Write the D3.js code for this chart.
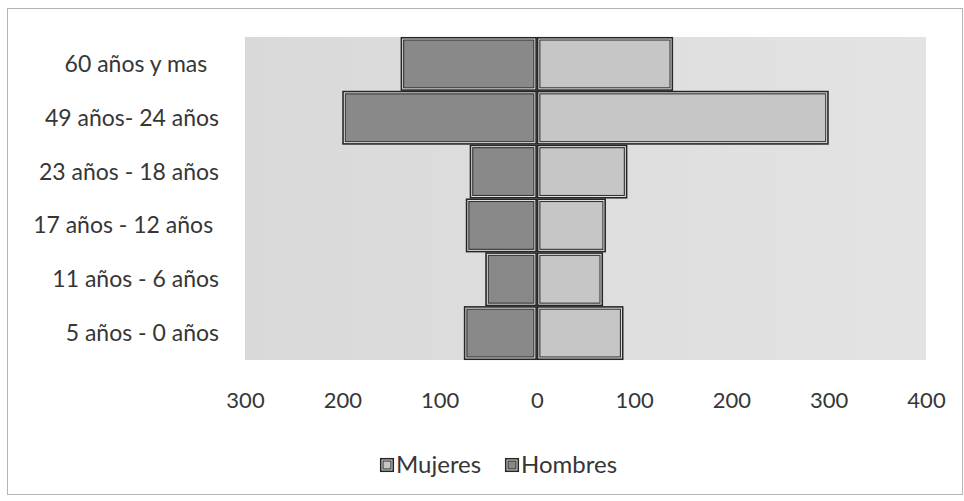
<!DOCTYPE html>
<html>
<head>
<meta charset="utf-8">
<script src="https://cdn.jsdelivr.net/npm/d3@7"></script>
<style>
  html, body { margin: 0; padding: 0; background: #ffffff; }
  svg { display: block; }
  text { font-family: Lato, "Open Sans", sans-serif; fill: #363636; white-space: pre; }
</style>
</head>
<body>
<svg id="chart" width="964" height="501"></svg>
<script>
// ---- data ----
const categories = ["60 años y mas  ", "49 años- 24 años", "23 años - 18 años", "17 años - 12 años ", "11 años - 6 años", "5 años - 0 años"];
const mujeres = [140, 300, 93, 71, 68, 89];
const hombres = [140, 200, 69, 73, 53, 75];
const tickValues = [-300, -200, -100, 0, 100, 200, 300, 400];
const seriesNames = ["Mujeres", "Hombres"];

// ---- layout ----
const svg = d3.select("#chart");
const W = 964, H = 501;
const plot = { left: 245, right: 926, top: 37, bottom: 360 };
const colors = { Mujeres: "#c6c6c6", Hombres: "#898989" };

const x = d3.scaleLinear().domain([-300, 400]).range([plot.left, plot.right]);
const y = d3.scaleBand().domain(categories).range([plot.top, plot.bottom]).padding(0);

// outer chart border
svg.append("rect")
  .attr("x", 7.5).attr("y", 8.5).attr("width", W - 9).attr("height", H - 15)
  .attr("fill", "#fff").attr("stroke", "#b5b5b5").attr("stroke-width", 1);

// plot background
const defs = svg.append("defs");
const grad = defs.append("linearGradient").attr("id", "bg").attr("x1", 0).attr("x2", 1).attr("y1", 0).attr("y2", 0);
grad.append("stop").attr("offset", "0%").attr("stop-color", "#d9d9d9");
grad.append("stop").attr("offset", "100%").attr("stop-color", "#e3e3e3");
svg.append("rect")
  .attr("x", plot.left).attr("y", plot.top)
  .attr("width", x(400) - x(-300)).attr("height", plot.bottom - plot.top)
  .attr("fill", "url(#bg)");

// bars
const rows = categories.map((c, i) => ({ c, m: mujeres[i], h: hombres[i] }));
function doubleRect(g, x0, y0, w, h, fill) {
  g.append("rect").attr("x", x0 + 0.75).attr("y", y0 + 0.75)
    .attr("width", Math.max(0, w - 1.5)).attr("height", Math.max(0, h - 1.5))
    .attr("fill", "#f2f2f2").attr("stroke", "#262626").attr("stroke-width", 1.6);
  g.append("rect").attr("x", x0 + 3).attr("y", y0 + 3)
    .attr("width", Math.max(0, w - 6)).attr("height", Math.max(0, h - 6))
    .attr("fill", fill).attr("stroke", "#333333").attr("stroke-width", 1.1);
}
const barsG = svg.append("g");
rows.forEach(d => {
  doubleRect(barsG, x(-d.h), y(d.c), x(0) - x(-d.h), y.bandwidth(), colors.Hombres);
  doubleRect(barsG, x(0), y(d.c), x(d.m) - x(0), y.bandwidth(), colors.Mujeres);
});

// category labels
svg.append("g").selectAll("text").data(categories).join("text")
  .attr("x", 219)
  .attr("y", d => y(d) + y.bandwidth() / 2)
  .attr("dy", "0.35em")
  .attr("text-anchor", "end")
  .attr("font-size", 23)
  .text(d => d);

// x axis
const xAxis = d3.axisBottom(x).tickValues(tickValues).tickSize(0).tickPadding(0)
  .tickFormat(v => String(Math.abs(v)));
const ax = svg.append("g").attr("transform", `translate(0, 392)`).call(xAxis);
ax.select(".domain").remove();
ax.selectAll("text").attr("font-size", 22).attr("fill", "#363636")
  .style("font-family", "Lato, 'Open Sans', sans-serif");

// legend
const legend = svg.append("g");
const legendItems = [
  { name: seriesNames[0], color: colors.Mujeres, x: 380 },
  { name: seriesNames[1], color: colors.Hombres, x: 505 }
];
legendItems.forEach(it => {
  doubleRect(legend, it.x, 458, 14, 14, it.color);
  legend.append("text").attr("x", it.x + 16).attr("y", 465).attr("dy", "0.35em")
    .attr("font-size", 24).text(it.name);
});
</script>
</body>
</html>
